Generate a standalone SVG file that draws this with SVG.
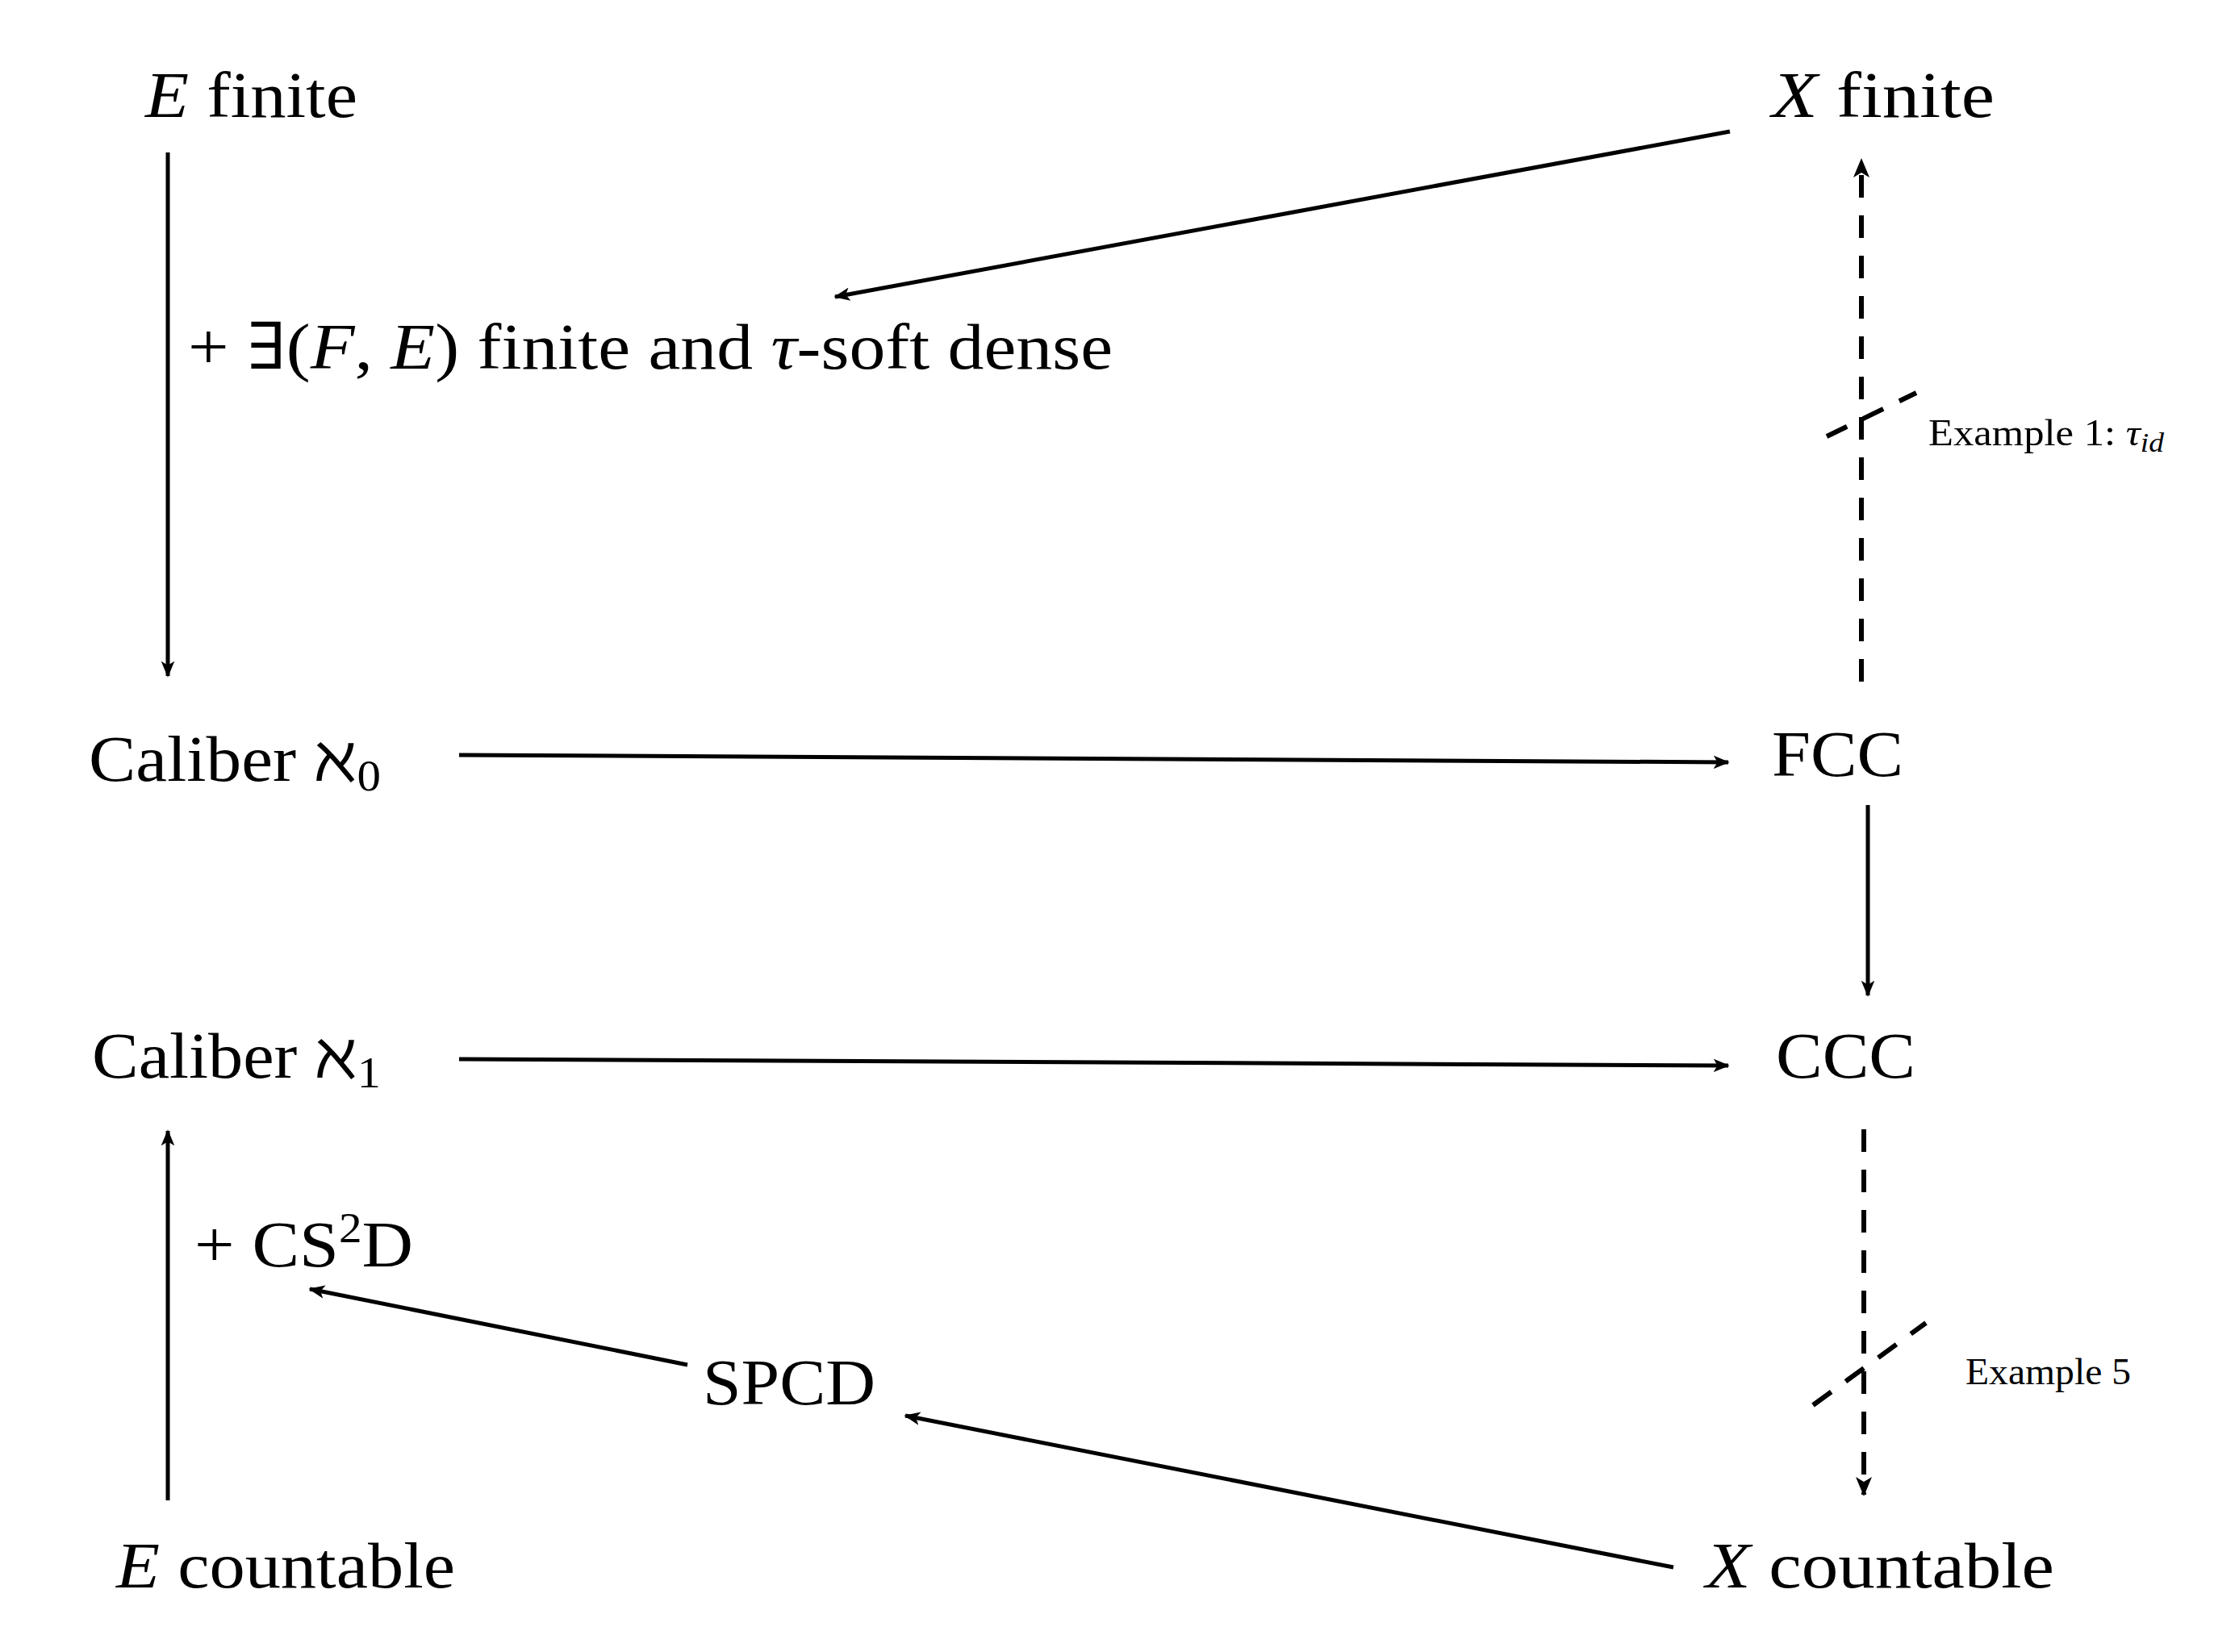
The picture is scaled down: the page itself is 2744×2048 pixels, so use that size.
<svg xmlns="http://www.w3.org/2000/svg" width="2744" height="2048" viewBox="0 0 2744 2048">
<style>
text{font-family:"Liberation Serif","DejaVu Serif",serif;fill:#000}
.n{font-size:80px}
.s{font-size:46px}
.l{stroke:#000;stroke-width:5;fill:none}
.d{stroke-width:6;stroke-dasharray:28 22}
</style>
<defs>
<marker id="a" viewBox="0 0 12 10" refX="11" refY="5" markerWidth="4" markerHeight="4" orient="auto" markerUnits="strokeWidth">
<path d="M0,0 L12,5 L0,10 L3,5 Z" fill="#000"/>
</marker>
</defs>
<rect width="2744" height="2048" fill="#fff"/>
<g id="connectors">
<line class="l" x1="208" y1="189" x2="208" y2="838" marker-end="url(#a)"/>
<line class="l" x1="2144" y1="163" x2="1035" y2="368" marker-end="url(#a)"/>
<line class="l d" x1="2307" y1="845" x2="2307" y2="198" marker-end="url(#a)"/>
<line class="l d" x1="2264" y1="541" x2="2375" y2="487"/>
<line class="l" x1="569" y1="936" x2="2142" y2="945" marker-end="url(#a)"/>
<line class="l" x1="2315" y1="998" x2="2315" y2="1234" marker-end="url(#a)"/>
<line class="l" x1="569" y1="1313" x2="2142" y2="1321" marker-end="url(#a)"/>
<line class="l d" x1="2310" y1="1400" x2="2310" y2="1853" marker-end="url(#a)"/>
<line class="l d" x1="2247" y1="1742" x2="2387" y2="1640"/>
<line class="l" x1="208" y1="1860" x2="208" y2="1402" marker-end="url(#a)"/>
<line class="l" x1="852" y1="1692" x2="384" y2="1598" marker-end="url(#a)"/>
<line class="l" x1="2074" y1="1943" x2="1122" y2="1755" marker-end="url(#a)"/>
</g>
<g id="efinite"><text class="n" x="180" y="145" textLength="263" lengthAdjust="spacingAndGlyphs"><tspan font-style="italic">E</tspan> finite</text></g>
<g id="xfinite"><text class="n" x="2196" y="145" textLength="276" lengthAdjust="spacingAndGlyphs"><tspan font-style="italic">X</tspan> finite</text></g>
<g id="label1"><text class="n" x="233" y="457" textLength="1146" lengthAdjust="spacingAndGlyphs">+ ∃(<tspan font-style="italic">F</tspan>, <tspan font-style="italic">E</tspan>) finite and <tspan font-style="italic">τ</tspan>-soft dense</text></g>
<g id="ex1"><text class="s" x="2390" y="552" textLength="292" lengthAdjust="spacingAndGlyphs">Example 1: <tspan font-style="italic">τ</tspan><tspan font-style="italic" font-size="34" dy="8">id</tspan></text></g>
<g id="cal0"><text class="n" x="110" y="968" textLength="362" lengthAdjust="spacingAndGlyphs">Caliber ℵ<tspan font-size="54" dy="12">0</tspan></text></g>
<g id="fcc"><text class="n" x="2196" y="962" textLength="163" lengthAdjust="spacingAndGlyphs">FCC</text></g>
<g id="cal1"><text class="n" x="114" y="1336" textLength="358" lengthAdjust="spacingAndGlyphs">Caliber ℵ<tspan font-size="54" dy="12">1</tspan></text></g>
<g id="ccc"><text class="n" x="2201" y="1336" textLength="173" lengthAdjust="spacingAndGlyphs">CCC</text></g>
<g id="ex5"><text class="s" x="2436" y="1716" textLength="205" lengthAdjust="spacingAndGlyphs">Example 5</text></g>
<g id="cs2d"><text class="n" x="241" y="1570" textLength="271" lengthAdjust="spacingAndGlyphs">+ CS<tspan font-size="52" dy="-30">2</tspan><tspan dy="30">D</tspan></text></g>
<g id="spcd"><text class="n" x="871" y="1741" textLength="214" lengthAdjust="spacingAndGlyphs">SPCD</text></g>
<g id="ecount"><text class="n" x="144" y="1968" textLength="420" lengthAdjust="spacingAndGlyphs"><tspan font-style="italic">E</tspan> countable</text></g>
<g id="xcount"><text class="n" x="2114" y="1968" textLength="432" lengthAdjust="spacingAndGlyphs"><tspan font-style="italic">X</tspan> countable</text></g>
</svg>
